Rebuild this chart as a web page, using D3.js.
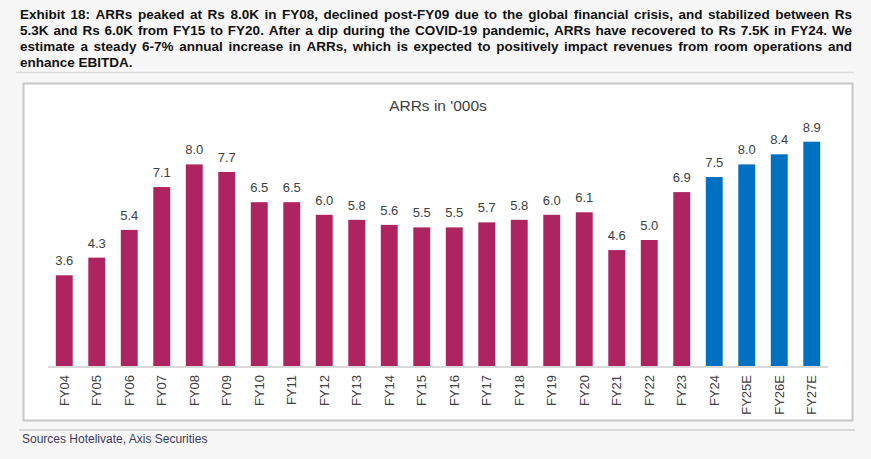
<!DOCTYPE html>
<html>
<head>
<meta charset="utf-8">
<script src="https://d3js.org/d3.v7.min.js"></script>
<title>ARRs in '000s</title>
<style>
body { margin: 0; background: #f7f7f7; font-family: "Liberation Sans", Arial, sans-serif; }
svg { display: block; }
</style>
</head>
<body>
<svg id="svg" width="871" height="459"></svg>
<script>

let categories = ["FY04","FY05","FY06","FY07","FY08","FY09","FY10","FY11","FY12","FY13","FY14","FY15",
                  "FY16","FY17","FY18","FY19","FY20","FY21","FY22","FY23","FY24","FY25E","FY26E","FY27E"];
let arrValues = [3.6,4.3,5.4,7.1,8.0,7.7,6.5,6.5,6.0,5.8,5.6,5.5,5.5,5.7,5.8,6.0,6.1,4.6,5.0,6.9,7.5,8.0,8.4,8.9];
let projectedFrom = "FY24"; // blue from here on

let titleLines = [
  "Exhibit 18: ARRs peaked at Rs 8.0K in FY08, declined post-FY09 due to the global financial crisis, and stabilized between Rs",
  "5.3K and Rs 6.0K from FY15 to FY20. After a dip during the COVID-19 pandemic, ARRs have recovered to Rs 7.5K in FY24. We",
  "estimate a steady 6-7% annual increase in ARRs, which is expected to positively impact revenues from room operations and",
  "enhance EBITDA."
];
let chartTitle = "ARRs in '000s";
let sourceText = "Sources Hotelivate, Axis Securities";

let svg = d3.select("#svg");
let headSize = "13.5px";

// justified header lines, word by word
function justifyLine(text, y, x0, x1, justify) {
  let g = svg.append("g");
  let words = text.split(" ");
  let widths = words.map(function(w) {
    let t = g.append("text")
      .style("font-size", headSize).style("font-weight", "bold").text(w);
    let w2 = t.node().getComputedTextLength();
    t.remove();
    return w2;
  });
  let total = d3.sum(widths);
  let gap = justify ? (x1 - x0 - total) / (words.length - 1) : 3.8;
  let x = x0;
  words.forEach(function(w, i) {
    g.append("text")
      .attr("x", x).attr("y", y)
      .style("font-size", headSize).style("font-weight", "bold")
      .attr("fill", "#111").text(w);
    x += widths[i] + gap;
  });
}

titleLines.forEach(function(line, i) {
  justifyLine(line, 19 + i * 16, 20, 852, i < titleLines.length - 1);
});

svg.append("line").attr("x1", 16).attr("x2", 854).attr("y1", 72.5).attr("y2", 72.5)
  .attr("stroke", "#d9d9d9").attr("stroke-width", 1.5);

// chart frame
svg.append("rect").attr("x", 23.5).attr("y", 83.5).attr("width", 829).attr("height", 337)
  .attr("fill", "#fff").attr("stroke", "#c6c6c6").attr("stroke-width", 2);

svg.append("text").attr("x", 438).attr("y", 111).attr("text-anchor", "middle")
  .style("font-size", "15.5px").attr("fill", "#404040").text(chartTitle);

let x = d3.scaleBand().domain(categories).range([48, 828]).paddingInner(0.48).paddingOuter(0.24);
let y = d3.scaleLinear().domain([0, 10]).range([366, 114]);

let bars = svg.append("g");
bars.selectAll("rect").data(arrValues).enter().append("rect")
  .attr("x", function(d, i) { return x(categories[i]); })
  .attr("y", function(d) { return y(d); })
  .attr("width", x.bandwidth())
  .attr("height", function(d) { return y(0) - y(d); })
  .attr("fill", function(d, i) { return i >= categories.indexOf(projectedFrom) ? "#0070c0" : "#ad2460"; });

bars.selectAll("text").data(arrValues).enter().append("text")
  .attr("x", function(d, i) { return x(categories[i]) + x.bandwidth() / 2; })
  .attr("y", function(d) { return y(d) - 10; })
  .attr("text-anchor", "middle")
  .style("font-size", "13px").attr("fill", "#404040")
  .text(function(d) { return d.toFixed(1); });

// category axis
let xAxis = svg.append("g").attr("transform", "translate(0,366)")
  .call(d3.axisBottom(x).tickSize(0).tickPadding(0));
xAxis.select(".domain").attr("stroke", "#d9d9d9").attr("stroke-width", 2).attr("d", "M48,1H828");
xAxis.selectAll("text")
  .attr("transform", "rotate(-90)")
  .attr("x", -9).attr("y", 0).attr("dy", "0.35em")
  .attr("text-anchor", "end")
  .style("font-size", "13px").style("font-family", "Liberation Sans, Arial, sans-serif")
  .attr("fill", "#404040");

svg.append("line").attr("x1", 19).attr("x2", 855).attr("y1", 430).attr("y2", 430)
  .attr("stroke", "#d9d9d9").attr("stroke-width", 2);

svg.append("text").attr("x", 22).attr("y", 443).style("font-size", "12px")
  .attr("fill", "#3b3b5c").text(sourceText);

</script>
</body>
</html>
